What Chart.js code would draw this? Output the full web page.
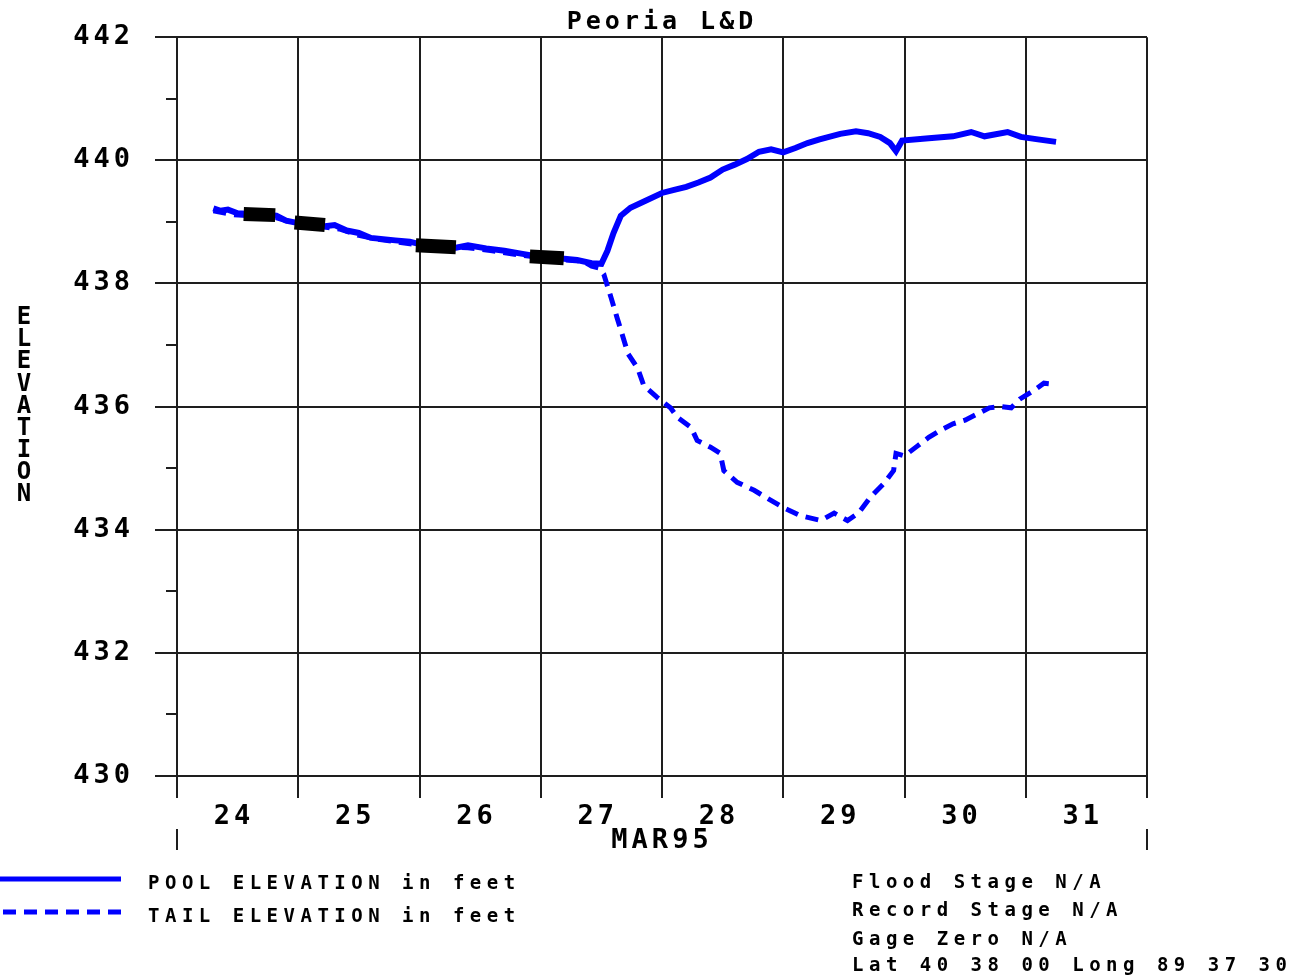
<!DOCTYPE html>
<html>
<head>
<meta charset="utf-8">
<title>Peoria L&amp;D</title>
<script src="https://cdn.jsdelivr.net/npm/chart.js@4/dist/chart.umd.min.js"></script>
<style>
  html, body { margin: 0; padding: 0; background: #fff; }
  canvas { display: block; }
</style>
</head>
<body>
<canvas id="stageChart" width="1289" height="977"></canvas>
<script>
/* Peoria L&D pool / tail elevation, Mar 24-31 1995 */
const chartTitle = 'Peoria L&D';
const xAxisTitle = 'MAR95';
const yAxisTitle = 'ELEVATION';

const dayLabels = ['24', '25', '26', '27', '28', '29', '30', '31'];
const elevationTicks = [430, 432, 434, 436, 438, 440, 442];
const minorTicks = [431, 433, 435, 437, 439, 441];

const poolLabel = 'POOL ELEVATION in feet';
const poolDays = [24.30, 24.36, 24.42, 24.50, 24.60, 24.70, 24.82, 24.90, 25.00, 25.10,
    25.22, 25.30, 25.40, 25.50, 25.60, 25.70, 25.80, 25.92, 26.00, 26.15,
    26.30, 26.40, 26.55, 26.70, 26.85, 27.00, 27.15, 27.30, 27.42, 27.50,
    27.55, 27.60, 27.66, 27.74, 27.86, 28.00, 28.10, 28.20, 28.30, 28.40,
    28.50, 28.60, 28.70, 28.80, 28.90, 29.00, 29.10, 29.20, 29.30, 29.47,
    29.60, 29.70, 29.80, 29.88, 29.93, 29.98, 30.20, 30.40, 30.55, 30.66,
    30.85, 30.96, 31.10, 31.25];
const poolValues = [439.22, 439.18, 439.20, 439.14, 439.13, 439.12, 439.10, 439.02, 438.98, 438.96,
    438.93, 438.95, 438.86, 438.82, 438.74, 438.72, 438.70, 438.68, 438.64, 438.60,
    438.58, 438.62, 438.57, 438.53, 438.48, 438.43, 438.41, 438.38, 438.33, 438.32,
    438.53, 438.82, 439.10, 439.23, 439.34, 439.47, 439.52, 439.57, 439.64, 439.72,
    439.85, 439.93, 440.02, 440.14, 440.18, 440.13, 440.20, 440.28, 440.34, 440.43,
    440.47, 440.44, 440.38, 440.28, 440.15, 440.32, 440.36, 440.39, 440.46, 440.39,
    440.46, 440.38, 440.34, 440.30];

const tailLabel = 'TAIL ELEVATION in feet';
const tailDays = [24.30, 24.45, 24.60, 24.80, 25.00, 25.20, 25.35, 25.50, 25.65, 25.80,
    26.00, 26.20, 26.40, 26.60, 26.80, 27.00, 27.20, 27.35, 27.42, 27.48,
    27.52, 27.58, 27.63, 27.68, 27.72, 27.80, 27.85, 27.96, 28.07, 28.13,
    28.24, 28.29, 28.40, 28.48, 28.51, 28.62, 28.76, 28.87, 29.00, 29.14,
    29.31, 29.42, 29.53, 29.62, 29.72, 29.83, 29.91, 29.93, 30.00, 30.10,
    30.20, 30.30, 30.40, 30.50, 30.60, 30.70, 30.80, 30.88, 30.95, 31.05,
    31.15, 31.25];
const tailValues = [439.18, 439.12, 439.10, 439.08, 438.96, 438.92, 438.88, 438.78, 438.72, 438.68,
    438.62, 438.60, 438.58, 438.53, 438.47, 438.42, 438.38, 438.36, 438.28, 438.25,
    438.15, 437.77, 437.44, 437.12, 436.86, 436.62, 436.34, 436.15, 435.98, 435.82,
    435.66, 435.45, 435.34, 435.24, 434.96, 434.77, 434.64, 434.51, 434.36, 434.23,
    434.15, 434.27, 434.15, 434.27, 434.53, 434.75, 434.96, 435.24, 435.20, 435.35,
    435.50, 435.62, 435.72, 435.78, 435.88, 435.98, 436.00, 435.98, 436.12, 436.24,
    436.38, 436.36];

// black observation marks on the pool line
const obsDays = [24.55, 24.81, 24.90, 24.97, 25.22, 25.60, 25.97, 26.30, 26.60, 26.91, 27.19];
const obsValues = [439.13, 439.11, null, 438.99, 438.95, null, 438.62, 438.59, null, 438.44, 438.41];

const noteLines = ['Flood Stage N/A', 'Record Stage N/A', 'Gage Zero N/A', 'Lat 40 38 00 Long 89 37 30'];

const monoFont = '"DejaVu Sans Mono", "Liberation Mono", monospace';
const gridColor = '#1e1e1e';

function toPoints(days, values) {
    return days.map((d, i) => ({ x: d, y: values[i] }));
}

const extrasPlugin = {
    id: 'extras',
    beforeDraw(chart) {
        chart.ctx.letterSpacing = '4px';
    },
    afterDraw(chart) {
        const ctx = chart.ctx;
        const xScale = chart.scales.x;
        const yScale = chart.scales.y;

        ctx.save();
        ctx.strokeStyle = gridColor;
        ctx.lineWidth = 2;
        ctx.beginPath();
        minorTicks.forEach(v => {
            const py = Math.round(yScale.getPixelForValue(v));
            ctx.moveTo(xScale.left - 11, py);
            ctx.lineTo(xScale.left, py);
        });
        [xScale.min, xScale.max].forEach(v => {
            const px = Math.round(xScale.getPixelForValue(v));
            ctx.moveTo(px, 829);
            ctx.lineTo(px, 850);
        });
        ctx.stroke();

        // stacked axis title
        ctx.fillStyle = '#000';
        ctx.letterSpacing = '0px';
        ctx.font = 'bold 24px ' + monoFont;
        ctx.textAlign = 'center';
        ctx.textBaseline = 'middle';
        yAxisTitle.split('').forEach((ch, i) => {
            ctx.fillText(ch, 24, 318 + i * 22.1);
        });

        // legend
        ctx.font = 'bold 19px ' + monoFont;
        ctx.letterSpacing = '5.5px';
        ctx.textAlign = 'left';
        [chart.data.datasets[1], chart.data.datasets[2]].forEach((ds, i) => {
            const ly = 879 + i * 33;
            ctx.strokeStyle = ds.borderColor;
            ctx.lineWidth = 5;
            ctx.setLineDash(ds.borderDash || []);
            ctx.lineDashOffset = -3;
            ctx.beginPath();
            ctx.moveTo(0, ly);
            ctx.lineTo(121, ly);
            ctx.stroke();
            ctx.fillText(ds.label, 148, ly + 5);
        });
        ctx.setLineDash([]);

        // gage notes
        const noteY = [883, 911, 940, 966];
        noteLines.forEach((line, i) => {
            ctx.fillText(line, 852, noteY[i]);
        });
        ctx.restore();
    }
};

const ctx = document.getElementById('stageChart').getContext('2d');

new Chart(ctx, {
    type: 'line',
    data: {
        datasets: [{
            label: 'observed',
            data: toPoints(obsDays, obsValues),
            borderColor: '#000',
            borderWidth: 14,
            borderCapStyle: 'butt',
            spanGaps: false,
            order: 0
        }, {
            label: poolLabel,
            data: toPoints(poolDays, poolValues),
            borderColor: '#0000ff',
            borderWidth: 6,
            order: 1
        }, {
            label: tailLabel,
            data: toPoints(tailDays, tailValues),
            borderColor: '#0000ff',
            borderWidth: 5,
            borderDash: [13, 8],
            borderCapStyle: 'butt',
            order: 2
        }]
    },
    options: {
        responsive: false,
        animation: false,
        layout: { padding: { left: 0, right: 142, top: 0, bottom: 118 } },
        elements: {
            point: { radius: 0 },
            line: { tension: 0, fill: false }
        },
        plugins: {
            legend: { display: false },
            tooltip: { enabled: false },
            title: {
                display: true,
                text: chartTitle,
                fullSize: false,
                color: '#000',
                font: { family: monoFont, size: 25, weight: 'bold' },
                padding: { top: 6, bottom: 0 }
            }
        },
        scales: {
            x: {
                type: 'linear',
                min: 24,
                max: 32,
                afterFit: scale => { scale.height = 83; },
                grid: { color: gridColor, lineWidth: 2, tickLength: 22, tickColor: gridColor },
                border: { color: gridColor, width: 2 },
                ticks: {
                    stepSize: 1,
                    autoSkip: false,
                    maxRotation: 0,
                    labelOffset: 57,
                    padding: 3,
                    color: '#000',
                    font: { family: monoFont, size: 27, weight: 'bold' },
                    callback: value => dayLabels[value - 24] || ''
                },
                title: {
                    display: true,
                    text: xAxisTitle,
                    color: '#000',
                    font: { family: monoFont, size: 27, weight: 'bold' },
                    padding: { top: 0, bottom: 1.5 }
                }
            },
            y: {
                type: 'linear',
                min: 430,
                max: 442,
                afterFit: scale => { scale.width = 177; },
                afterBuildTicks: scale => {
                    scale.ticks = elevationTicks.map(v => ({ value: v }));
                },
                grid: { color: gridColor, lineWidth: 2, tickLength: 22, tickColor: gridColor },
                border: { color: gridColor, width: 2 },
                ticks: {
                    padding: 21,
                    color: '#000',
                    font: { family: monoFont, size: 27, weight: 'bold' }
                }
            }
        }
    },
    plugins: [extrasPlugin]
});
</script>
</body>
</html>
